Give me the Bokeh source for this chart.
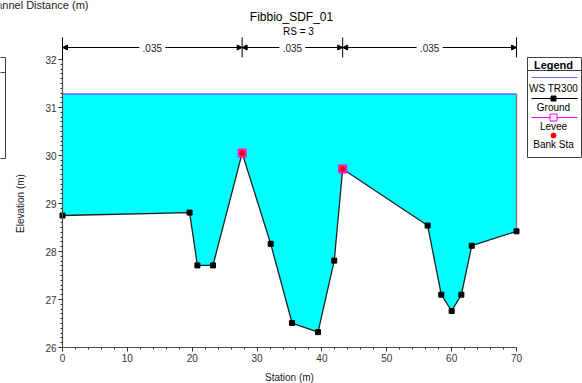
import math

from bokeh.plotting import figure
from bokeh.models import Range1d, Arrow, NormalHead, SingleIntervalTicker
from bokeh.core.properties import value
from bokeh.embed import file_html
from bokeh.resources import INLINE

# ---- Cross section Fibbio_SDF_01, RS = 3 ----
station = [0.0, 19.6, 20.8, 23.2, 27.7, 32.1, 35.4, 39.4,
           41.9, 43.2, 56.3, 58.4, 60.0, 61.5, 63.1, 70.0]
elevation = [28.75, 28.81, 27.71, 27.71, 30.05, 28.16, 26.51, 26.32,
             27.81, 29.72, 28.54, 27.10, 26.76, 27.10, 28.12, 28.42]
ws_tr300 = 31.28
bank_sta = [27.7, 43.2]
bank_elev = [30.05, 29.72]
n_breaks = [0.0, 27.7, 43.2, 70.0]
n_values = [".035", ".035", ".035"]

FONT = value("Liberation Sans")
W, H = 582, 383
# pixel box occupied by the axes (0..70 m, 26..32 m)
AX_L, AX_R, AX_T, AX_B = 62, 516, 59, 347
X0, X1, Y0, Y1 = 0, 70, 26, 32
SX = (AX_R - AX_L) / (X1 - X0)
SY = (AX_B - AX_T) / (Y1 - Y0)


def dx(px):
    """Canvas pixel column -> station units."""
    return X0 + (px - AX_L) / SX


def dy(py):
    """Canvas pixel row -> elevation units."""
    return Y0 + (AX_B - py) / SY


# the plotting frame fills the whole canvas; the axes sit at fixed data positions
p = figure(width=W, height=H,
           x_range=Range1d(dx(0), dx(W)), y_range=Range1d(dy(H), dy(0)),
           output_backend="svg", toolbar_location=None, title=None,
           min_border=0, min_border_left=0, min_border_right=0,
           min_border_top=0, min_border_bottom=0)
p.outline_line_color = None
p.background_fill_color = "white"
p.border_fill_color = "white"
p.xgrid.visible = False
p.ygrid.visible = False

p.xaxis.fixed_location = Y0
p.yaxis.fixed_location = X0
p.xaxis.bounds = (X0, X1)
p.yaxis.bounds = (Y0, Y1)
p.xaxis.ticker = SingleIntervalTicker(interval=10, num_minor_ticks=5)
p.yaxis.ticker = SingleIntervalTicker(interval=1, num_minor_ticks=10)
for ax in (p.xaxis, p.yaxis):
    ax.axis_line_color = "#505050"
    ax.axis_line_width = 1.2
    ax.major_tick_line_color = "#303030"
    ax.minor_tick_line_color = "#303030"
    ax.major_tick_in = 0
    ax.major_tick_out = 4
    ax.minor_tick_in = 0
    ax.minor_tick_out = 2
    ax.major_label_text_font = "Liberation Sans"
    ax.major_label_text_font_size = "10px"
    ax.major_label_text_color = "#333333"
    ax.major_label_standoff = 2

# water surface fill between ground and WS
n = len(station)
p.varea(x=station, y1=elevation, y2=[ws_tr300] * n, fill_color="#00ffff")
p.line([station[-1], station[-1]], [elevation[-1], ws_tr300],
       line_color="#808080", line_width=1.5)
p.line([station[0], station[-1]], [ws_tr300, ws_tr300],
       line_color="#6060ff", line_width=1.5)

# ground
p.line(station, elevation, line_color="#202020", line_width=1.3)
p.scatter(station, elevation, marker="square", size=5,
          fill_color="black", line_color="black")

# bank stations
p.scatter(bank_sta, bank_elev, marker="square", size=8,
          fill_color="#ff3399", line_color="#ff00ff", line_width=1)
p.scatter(bank_sta, bank_elev, marker="circle", size=5,
          fill_color="#ff0000", line_color="#ff0000")

# Manning's n bracket above the section
y_arrow = dy(47)
gap = 13 / SX
head = dict(size=5, fill_color="black", line_color="black")
for i, lab in enumerate(n_values):
    a, b = n_breaks[i], n_breaks[i + 1]
    mid = (a + b) / 2
    p.add_layout(Arrow(x_start=mid - gap, y_start=y_arrow, x_end=a, y_end=y_arrow,
                       line_color="black", line_width=1, end=NormalHead(**head)))
    p.add_layout(Arrow(x_start=mid + gap, y_start=y_arrow, x_end=b, y_end=y_arrow,
                       line_color="black", line_width=1, end=NormalHead(**head)))
    p.text(x=[mid], y=[y_arrow], text=[lab], text_align="center",
           text_baseline="middle", text_font=FONT, text_font_size="10px",
           text_color="#222222")
tick_top = [dy(37)] * len(n_breaks)
tick_bot = [Y1] + [dy(57)] * (len(n_breaks) - 1)
p.segment(x0=n_breaks, y0=tick_top, x1=n_breaks, y1=tick_bot,
          line_color="black", line_width=1)


def put_text(px, py, text, size="10px", align="center", style="normal",
             color="#222222", angle=0.0, baseline="middle"):
    p.text(x=[dx(px)], y=[dy(py)], text=[text], text_align=align,
           text_baseline=baseline, text_font=FONT, text_font_size=size,
           text_font_style=style, text_color=color, angle=angle)


# titles
put_text(291, 16, "Fibbio_SDF_01", size="12px", color="black")
put_text(298, 30.5, "RS = 3", color="black")
put_text(289, 377, "Station (m)")
put_text(20, 203, "Elevation (m)", angle=math.pi / 2)

# neighbouring profile panel, cut by the window edge
put_text(88, 4, "Main Channel Distance (m)", size="11px", align="right",
         baseline="alphabetic")
p.quad(left=[dx(-6)], right=[dx(5)], top=[dy(57)], bottom=[dy(158)],
       fill_alpha=0, line_color="#404040", line_width=1)
p.segment(x0=[dx(-6)], y0=[dy(72)], x1=[dx(5)], y1=[dy(72)],
          line_color="#404040", line_width=1)

# legend panel
p.quad(left=[dx(527)], right=[dx(581)], top=[dy(57)], bottom=[dy(157)],
       fill_color="white", line_color="#404040", line_width=1)
p.segment(x0=[dx(527)], y0=[dy(70)], x1=[dx(581)], y1=[dy(70)],
          line_color="#404040", line_width=1)
put_text(553, 64, "Legend", size="11px", style="bold", color="black")


def legend_line(py, color):
    p.segment(x0=[dx(531)], y0=[dy(py)], x1=[dx(577)], y1=[dy(py)],
              line_color=color, line_width=1.2)


def legend_mark(py, marker, size, fill, line):
    p.scatter(x=[dx(553)], y=[dy(py)], marker=marker, size=size,
              fill_color=fill, line_color=line, line_width=1)


legend_line(77, "#7070ff")
put_text(553, 88, "WS TR300", color="black")
legend_line(98, "black")
legend_mark(98, "square", 5, "black", "black")
put_text(553, 107, "Ground", color="black")
legend_line(117, "#ff00ff")
legend_mark(117, "square", 7, "white", "#ff00ff")
put_text(553, 126, "Levee", color="black")
legend_mark(135, "circle", 5, "red", "red")
put_text(553, 144, "Bank Sta", color="black")

open("out.html", "w").write(file_html(p, INLINE))
